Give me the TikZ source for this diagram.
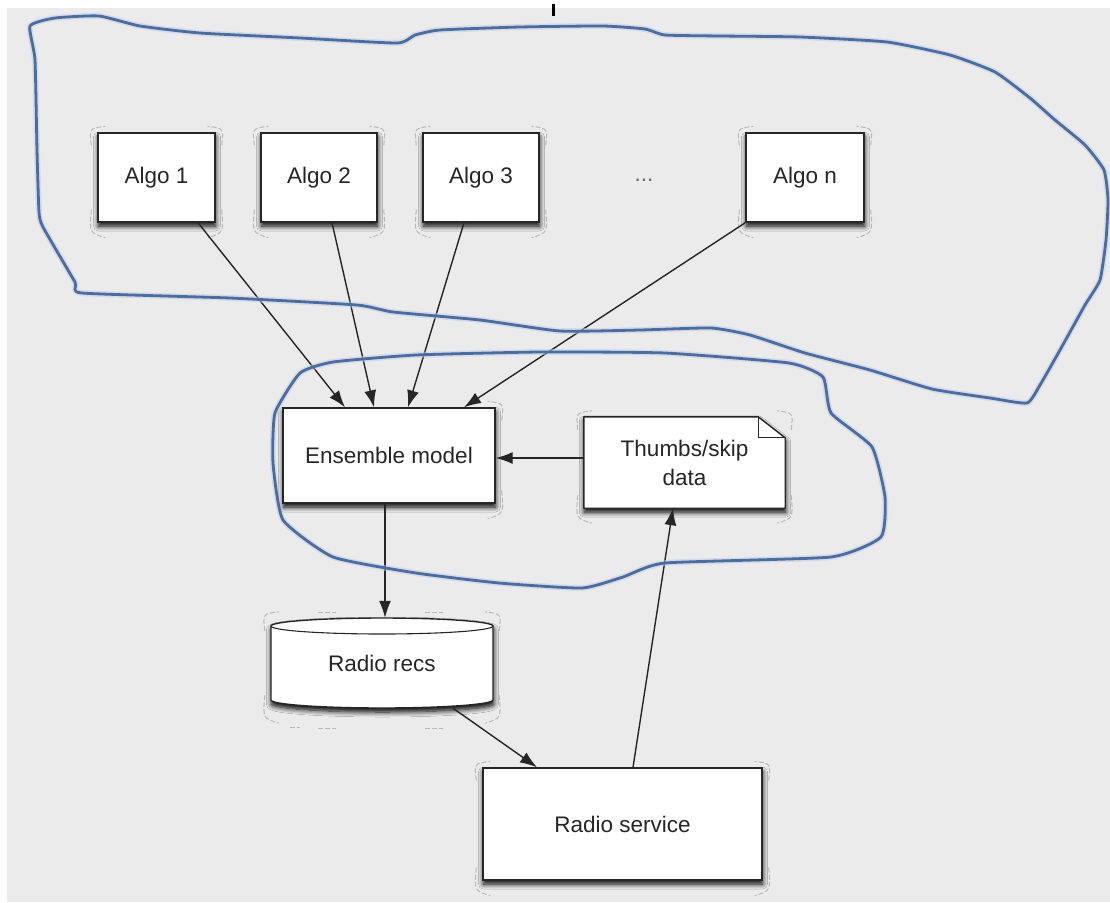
\documentclass[tikz,border=0pt]{standalone}
\usepackage{fontspec}
\setmainfont{Liberation Sans}
\usetikzlibrary{arrows.meta,shadows.blur}

\definecolor{bg}{RGB}{235,235,235}
\definecolor{pen}{RGB}{74,108,160}
\definecolor{ink}{RGB}{38,38,38}

% dashed selection handles round the corners of a block
\newcommand\handlesL[1]{%
  \draw[handle] ([shift={(-6pt,-13pt)}]#1.north west) .. controls ([shift={(-8pt,4pt)}]#1.north west) .. ([shift={(8pt,6pt)}]#1.north west);
  \draw[handle] ([shift={(-6pt,13pt)}]#1.south west) .. controls ([shift={(-8pt,-10pt)}]#1.south west) .. ([shift={(8pt,-15pt)}]#1.south west);
}
\newcommand\handlesR[1]{%
  \draw[handle] ([shift={(6pt,-13pt)}]#1.north east) .. controls ([shift={(8pt,4pt)}]#1.north east) .. ([shift={(-8pt,6pt)}]#1.north east);
  \draw[handle] ([shift={(6pt,13pt)}]#1.south east) .. controls ([shift={(8pt,-10pt)}]#1.south east) .. ([shift={(-8pt,-15pt)}]#1.south east);
}

\begin{document}
\begin{tikzpicture}[x=1pt,y=-1pt,
  txt/.style={font=\fontsize{22.5}{29}\selectfont, text=ink, align=center},
  softshadow/.style={blur shadow={shadow xshift=0.5pt, shadow yshift=-4pt,
      shadow blur radius=5pt, shadow opacity=100, shadow blur steps=8}},
  block/.style={txt, draw=ink, line width=1.4pt, fill=white, inner sep=0pt,
      softshadow},
  frame/.style={inner sep=0pt},
  handle/.style={draw=black!28, line width=1pt, dash pattern=on 5pt off 2pt},
  arr/.style={draw=ink, line width=1.4pt, -{Latex[length=17pt,width=12pt]}},
  lasso/.style={draw=pen, line width=2.8pt, line join=round, line cap=round},
  lassoglow/.style={draw=pen!35, line width=6pt, line join=round, opacity=0.5},
]
\useasboundingbox (0,0) rectangle (1110,902);
\fill[white] (0,0) rectangle (1110,902);
\fill[bg] (7,8) rectangle (1110,902);

% small mark at the top edge
\draw[black, line width=3pt] (553,4) -- (553,16);

% algorithm blocks
\node[block, minimum width=117pt, minimum height=89pt] (a1) at (156.5,177.5) {Algo 1};
\node[block, minimum width=116pt, minimum height=89pt] (a2) at (319,177.5) {Algo 2};
\node[block, minimum width=116pt, minimum height=89pt] (a3) at (481,177.5) {Algo 3};
\node[txt, text=ink!70] (dots) at (644,180) {...};
\node[block, minimum width=118pt, minimum height=89pt] (an) at (805,177.5) {Algo n};

% ensemble model
\node[block, minimum width=212pt, minimum height=95pt] (ens) at (389,455.5) {Ensemble model};

% thumbs/skip data document with folded corner
\node[frame, minimum width=201pt, minimum height=91pt] (th) at (684.5,462.5) {};
\path[fill=white, draw=ink, line width=1.4pt, line join=round, softshadow]
  (th.north west) -- ([xshift=-27pt]th.north east) -- ([yshift=-21pt]th.north east)
  -- (th.south east) -- (th.south west) -- cycle;
\draw[ink, line width=1pt] ([xshift=-27pt]th.north east) |- ([yshift=-21pt]th.north east);
\node[txt] at (th) {Thumbs/skip\\data};

% radio recs store (cylinder)
\node[frame, minimum width=222pt, minimum height=90pt] (rr) at (382,663) {};
\path[fill=white, draw=ink, line width=1.4pt, softshadow]
  (271,626) -- (271,700)
  .. controls (271,704.4) and (320.7,708) .. (382,708)
  .. controls (443.3,708) and (493,704.4) .. (493,700)
  -- (493,626)
  .. controls (493,621.6) and (443.3,618) .. (382,618)
  .. controls (320.7,618) and (271,621.6) .. (271,626) -- cycle;
\draw[ink, line width=1.1pt]
  (271,626) .. controls (271,630.4) and (320.7,634) .. (382,634)
  .. controls (443.3,634) and (493,630.4) .. (493,626);
\node[txt] at (rr) {Radio recs};

% radio service
\node[block, minimum width=279pt, minimum height=112pt] (rs) at (622.5,824) {Radio service};

% selection handles
\foreach \n in {a1,a2,a3,an,th,rr,rs} {\handlesL{\n}}
\foreach \n in {a1,a2,a3,an,ens,th,rr,rs} {\handlesR{\n}}
\draw[handle] (318,612) -- (336,612);
\draw[handle] (425,612) -- (443,612);
\draw[handle] (290,727) -- (300,727);
\draw[handle] (318,728) -- (336,728);
\draw[handle] (425,728) -- (443,728);

% connectors
\draw[arr] ([xshift=41.5pt]a1.south) -- ([xshift=-44pt]ens.north);
\draw[arr] ([xshift=13pt]a2.south) -- ([xshift=-15pt]ens.north);
\draw[arr] ([xshift=-17pt]a3.south) -- ([xshift=19pt]ens.north);
\draw[arr] (an.south west) -- ([xshift=75pt]ens.north);
\coordinate (thl) at ([yshift=4.5pt]th.west);
\draw[arr] (thl) -- (thl -| ens.east);
\draw[arr] ([xshift=-4pt]ens.south) -- ([xshift=3pt]rr.north);
\draw[arr] ([xshift=71pt]rr.south) -- ([xshift=-85.5pt]rs.north);
\draw[arr] ([xshift=10.5pt]rs.north) -- ([xshift=-11.5pt]th.south);

% hand-drawn lasso round the algorithms
\def\upperloop{(30,26) (55,18) (99,16) (140,26) (200,33) (300,38) (397,43)
  (415,35) (440,30) (520,27) (603,26) (645,29) (665,35) (720,36) (800,37)
  (887,42) (950,55) (995,72) (1030,98) (1055,120) (1085,145) (1104,170)
  (1108,200) (1106,240) (1100,280) (1085,305) (1060,350) (1040,385) (1027,403)
  (990,398) (932,389) (870,370) (805,353) (750,335) (711,328) (640,330)
  (560,331) (480,320) (393,312) (357,305) (230,298) (82,293) (75,282)
  (43,227) (39,212) (37,150) (35,60)}
% hand-drawn lasso round the ensemble and the feedback data
\def\lowerloop{(300,373) (333,362) (416,355) (540,352) (665,353) (789,363)
  (823,377) (831,413) (872,447) (885,497) (881,537) (831,557) (665,563)
  (623,577) (582,588) (499,583) (416,573) (333,557) (283,520) (273,463)
  (275,413)}
\draw[lassoglow] plot[smooth cycle, tension=0.3] coordinates {\upperloop};
\draw[lassoglow] plot[smooth cycle, tension=0.3] coordinates {\lowerloop};
\draw[lasso] plot[smooth cycle, tension=0.3] coordinates {\upperloop};
\draw[lasso] plot[smooth cycle, tension=0.3] coordinates {\lowerloop};
\end{tikzpicture}
\end{document}
